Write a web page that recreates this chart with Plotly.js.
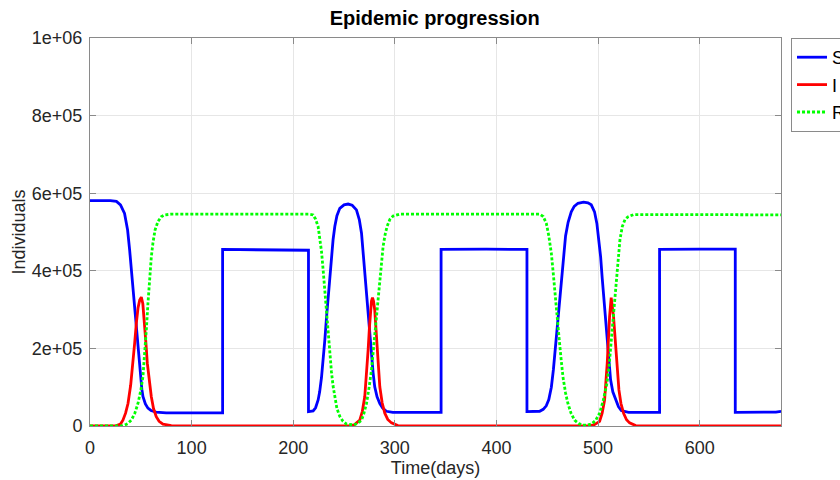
<!DOCTYPE html>
<html>
<head>
<meta charset="utf-8">
<script src="https://cdn.plot.ly/plotly-3.0.1.min.js"></script>
<style>html,body{margin:0;padding:0;background:#fff;}#chart{width:840px;height:480px;}</style>
</head>
<body>
<div id="chart"></div>
<script>
// Time (days) and values
var sDays = [0,20,26,30,34,37,39,42.3,45.6,48.9,51,52.1,54.5,57,60,65,75,130.5,130.5,215,215,219.6,222,224.5,226,227.8,229.5,231.1,232.7,234.3,236,237.6,239.2,240.9,243,245.8,250,254,258,262.2,265,267.2,268.8,270.4,272,273.7,275.3,277,278.6,280.2,282.5,285.2,288,291.7,298,345.5,345.5,390,430,430,436,442.5,446,449,451.5,454,456,458,460,462,464,466,468,470.5,473.6,476.5,480.2,485.7,490,493.3,496.5,498.8,500.7,502.5,504.1,505.7,507.4,509,510.7,512.3,514.5,517.2,520,522.8,530,560.5,560.5,600,635,635,660,675,680];
var sVals = [581000,581000,579000,570000,548000,505000,454000,350000,247000,144000,95000,76000,57000,46000,40000,36000,34000,34000,455000,453000,37000,39000,47000,67000,88000,125000,170000,222000,278000,333000,388000,436000,480000,514000,542000,561000,570000,572000,569000,557000,532000,497000,447000,394000,338000,282000,229000,179000,137000,101000,75000,58000,46000,38000,35000,35000,455000,456000,455000,37000,37000,38000,43000,52000,68000,100000,145000,205000,265000,325000,390000,445000,490000,525000,552000,566000,574000,577000,575000,570000,552000,522000,480000,436000,380000,325000,268000,213000,162000,119000,88000,67000,50000,40000,35000,35000,455000,456000,456000,35000,35000,36000,38000];

var iDays = [0,20,26,30,32.4,35,37.4,40,42.3,44,45.6,47.3,48.9,50.5,52,53.7,55,56.4,58.3,60.3,62.5,65.2,68,71.8,80,90,255,260,265.5,268,270.4,272,273.7,275,276,277,278,279,280.2,281.3,282.5,283.8,285.2,287.5,290.1,293,296.7,303,310,490,496,501.5,504,506.4,509,511.3,512.9,515.2,517.9,520.5,522.5,525.1,528,531,537,545,680];
var iVals = [0,0,1000,5000,15000,33000,58000,105000,162000,215000,265000,305000,325000,332000,315000,265000,215000,162000,115000,76000,45000,24000,12000,5000,1000,0,0,3000,15000,38000,76000,125000,196000,255000,299000,322000,331000,322000,299000,250000,196000,145000,101000,60000,33000,17000,8000,1000,0,0,3000,12000,33000,67000,162000,282000,331000,282000,179000,93000,58000,33000,16000,8000,1000,0,0];

var rDays = [0,30,34,37,40.6,44,47.2,50,52.1,54,55.4,57,58.7,60.3,61.9,64,66.9,70,73.4,80,215,219.6,222,224.5,226,227.8,229.5,231.1,232.7,234.3,236,237.6,239.2,240.9,243,245.8,249,252.4,258.9,263,267.2,269.5,272.1,274.5,277,279,281.2,283.2,285.2,286.8,288.4,290.3,292.3,295,298.2,305,442.5,446,449.1,451.5,454,456,458.2,460,461.5,463.5,465.4,468,470.3,473.5,476.9,481,485,489,493.3,497.5,501.5,505,508.7,511,513,514.6,516.2,518,519.5,521.5,523.8,526.5,529.3,535,600,680];
var rVals = [0,0,2000,6000,15000,32000,58000,92000,127000,185000,247000,315000,385000,435000,471000,505000,527000,539000,544000,546000,546000,544000,533000,514000,485000,450000,400000,345000,290000,236000,185000,140000,103000,72000,45000,25000,12000,5000,3000,6000,15000,32000,58000,97000,144000,200000,265000,325000,385000,428000,462000,492000,514000,532000,541000,546000,546000,540000,522000,490000,445000,390000,333000,278000,230000,175000,127000,85000,58000,32000,15000,6000,2000,2000,5000,14000,33000,65000,110000,160000,222000,278000,333000,390000,436000,480000,514000,532000,539000,545000,545000,544000];

var xTickVals = [0,100,200,300,400,500,600];
var xTickText = ['0','100','200','300','400','500','600'];
var yTickVals = [0,200000,400000,600000,800000,1000000];
var yTickText = ['0','2e+05','4e+05','6e+05','8e+05','1e+06'];

var font = 'Liberation Sans, Arial, Helvetica, sans-serif';

var traces = [
  {x: sDays, y: sVals, name: 'S', mode: 'lines', legendgroup: 'a',
   line: {color: '#0000ff', width: 2.8}},
  {x: iDays, y: iVals, name: 'I', mode: 'lines', legendgroup: 'b',
   line: {color: '#ff0000', width: 2.8}},
  {x: rDays, y: rVals, name: 'R', mode: 'lines', legendgroup: 'c',
   line: {color: '#00ff00', width: 2.8, dash: '3px,2px'}}
];

var axisCommon = {
  showline: true, linecolor: '#8a8a8a', linewidth: 1, mirror: 'ticks',
  ticks: 'inside', ticklen: 6, tickcolor: '#8a8a8a',
  showgrid: true, gridcolor: '#e6e6e6', gridwidth: 1,
  zeroline: false, tickfont: {family: font, size: 18, color: '#262626'},
  automargin: false
};

var layout = {
  width: 840, height: 480,
  paper_bgcolor: '#ffffff', plot_bgcolor: '#ffffff',
  margin: {l: 90, r: 59, t: 38, b: 54, autoexpand: false},
  title: {text: '<b>Epidemic progression</b>', x: 0.5175, xanchor: 'center', y: 0.962, yanchor: 'middle',
          font: {family: font, size: 20, color: '#000000'}},
  xaxis: Object.assign({}, axisCommon, {
    range: [0, 680], tickvals: xTickVals, ticktext: xTickText, ticklabelstandoff: 5,
    title: {text: 'Time(days)', standoff: 1, font: {family: font, size: 18, color: '#262626'}}
  }),
  yaxis: Object.assign({}, axisCommon, {
    range: [0, 1000000], tickvals: yTickVals, ticktext: yTickText, ticklabelstandoff: 3,
    title: {text: 'Individuals', standoff: 1, font: {family: font, size: 18, color: '#262626'}}
  }),
  showlegend: true,
  legend: {x: 1.0145, xanchor: 'left', y: 1, yanchor: 'top',
           bordercolor: '#8a8a8a', borderwidth: 1, bgcolor: '#ffffff',
           font: {family: font, size: 18, color: '#000000'},
           traceorder: 'grouped', tracegroupgap: 1}
};

Plotly.newPlot('chart', traces, layout, {staticPlot: true, displayModeBar: false});
</script>
</body>
</html>
